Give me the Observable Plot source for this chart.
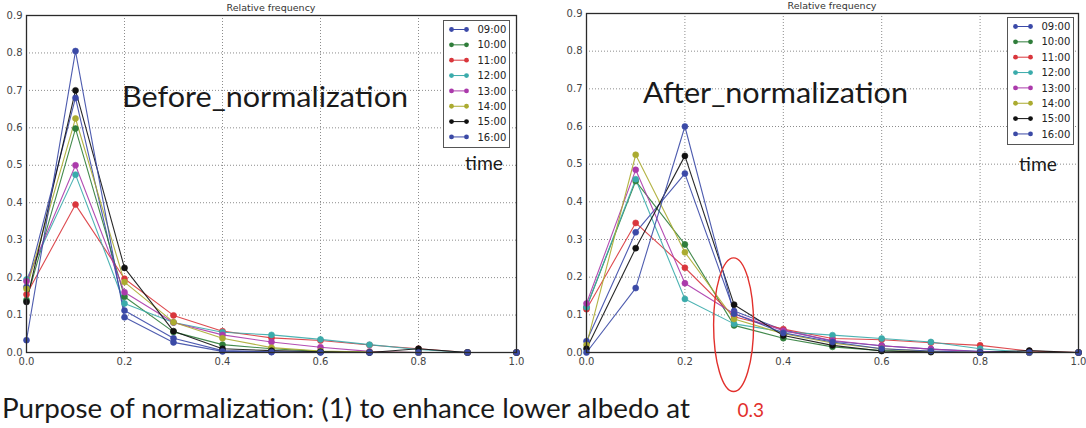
<!DOCTYPE html>
<html>
<head>
<meta charset="utf-8">
<script src="https://cdn.jsdelivr.net/npm/d3@7"></script>
<script src="https://cdn.jsdelivr.net/npm/@observablehq/plot@0.6"></script>
<style>
  html, body { margin: 0; padding: 0; background: #fff; }
  #page { position: relative; width: 1086px; height: 428px; overflow: hidden; background: #fff; }
  .panel { position: absolute; top: 0; }
  #overlay { position: absolute; left: 0; top: 0; pointer-events: none; }
</style>
</head>
<body>
<div id="page"></div>
<script>
// Albedo bins (x) and tick values
const bins = [0, 0.1, 0.2, 0.3, 0.4, 0.5, 0.6, 0.7, 0.8, 0.9, 1.0];
const xTicks = [0, 0.2, 0.4, 0.6, 0.8, 1.0];
const yTicks = [0, 0.1, 0.2, 0.3, 0.4, 0.5, 0.6, 0.7, 0.8, 0.9];

// Observation times and their colours
const times = ["09:00", "10:00", "11:00", "12:00", "13:00", "14:00", "15:00", "16:00"];
const timeColors = ["#3b49a8", "#2f7d3a", "#d9363c", "#3aabab", "#ab3aab", "#abab30", "#111111", "#3b4aa6"];

// Relative frequency per bin, before normalization
const before0900 = [0.175, 0.68, 0.112, 0.038, 0.005, 0.002, 0.001, 0, 0, 0, 0];
const before1000 = [0.14, 0.598, 0.149, 0.055, 0.021, 0.01, 0.003, 0.001, 0, 0, 0];
const before1100 = [0.155, 0.395, 0.197, 0.099, 0.057, 0.039, 0.032, 0.02, 0.01, 0, 0];
const before1200 = [0.195, 0.475, 0.131, 0.08, 0.054, 0.047, 0.035, 0.021, 0.008, 0, 0];
const before1300 = [0.19, 0.5, 0.161, 0.08, 0.047, 0.028, 0.014, 0.003, 0, 0, 0];
const before1400 = [0.17, 0.625, 0.188, 0.081, 0.038, 0.013, 0.004, 0.001, 0, 0, 0];
const before1500 = [0.135, 0.7, 0.226, 0.057, 0.01, 0.005, 0.002, 0, 0.01, 0, 0];
const before1600 = [0.033, 0.805, 0.094, 0.027, 0.003, 0.001, 0, 0, 0, 0, 0];

// Relative frequency per bin, after normalization
const after0900 = [0.03, 0.319, 0.475, 0.11, 0.06, 0.03, 0.018, 0.009, 0.003, 0, 0];
const after1000 = [0.12, 0.455, 0.287, 0.072, 0.038, 0.015, 0.005, 0.002, 0, 0, 0];
const after1100 = [0.115, 0.344, 0.225, 0.095, 0.062, 0.037, 0.034, 0.026, 0.019, 0.004, 0];
const after1200 = [0.12, 0.46, 0.142, 0.076, 0.055, 0.046, 0.037, 0.028, 0.01, 0, 0];
const after1300 = [0.13, 0.485, 0.184, 0.103, 0.058, 0.032, 0.018, 0.009, 0.002, 0, 0];
const after1400 = [0.02, 0.525, 0.266, 0.089, 0.05, 0.025, 0.01, 0.003, 0, 0, 0];
const after1500 = [0.01, 0.277, 0.522, 0.127, 0.045, 0.019, 0.004, 0.001, 0, 0.005, 0];
const after1600 = [0, 0.171, 0.6, 0.103, 0.052, 0.028, 0.01, 0.004, 0, 0, 0];

const beforeSeries = [before0900, before1000, before1100, before1200, before1300, before1400, before1500, before1600];
const afterSeries = [after0900, after1000, after1100, after1200, after1300, after1400, after1500, after1600];

const page = document.getElementById("page");

function toRows(series) {
  const rows = [];
  series.forEach((vals, i) => vals.forEach((v, j) => rows.push({time: times[i], bin: bins[j], freq: v})));
  return rows;
}

function panel(series, {left, width, marginTop, marginRight}) {
  const rows = toRows(series);
  const chart = Plot.plot({
    width, height: 375,
    marginLeft: 26, marginRight, marginTop, marginBottom: 23,
    style: {background: "transparent", fontFamily: "'DejaVu Sans', sans-serif", fontSize: "10px", color: "#444", overflow: "visible"},
    x: {domain: [0, 1], ticks: xTicks, tickFormat: d => d.toFixed(1), tickSize: 0, tickPadding: 5, label: null},
    y: {domain: [0, 0.9], ticks: yTicks, tickFormat: d => d.toFixed(1), tickSize: 0, tickPadding: 4, label: null},
    color: {domain: times, range: timeColors},
    marks: [
      Plot.ruleX(xTicks.slice(1, -1), {stroke: "#8c8c8c", strokeWidth: 1, strokeDasharray: "1,2"}),
      Plot.ruleY(yTicks.slice(1, -1), {stroke: "#8c8c8c", strokeWidth: 1, strokeDasharray: "1,2"}),
      Plot.line(rows, {x: "bin", y: "freq", z: "time", stroke: "time", strokeWidth: 1.1, strokeOpacity: 0.9}),
      Plot.dot(rows, {x: "bin", y: "freq", fill: "time", stroke: "time", strokeWidth: 0.6, r: 3}),
      Plot.frame({stroke: "#2a2a2a", strokeWidth: 1.3})
    ]
  });
  chart.classList.add("panel");
  chart.style.left = left + "px";
  page.appendChild(chart);
  return chart;
}

const leftChart = panel(beforeSeries, {left: 0, width: 530, marginTop: 15, marginRight: 14});
const rightChart = panel(afterSeries, {left: 560, width: 526, marginTop: 13, marginRight: 8});

// Annotation layer: titles, legends, captions and the highlight ellipse
const overlay = d3.create("svg")
  .attr("id", "overlay")
  .attr("width", 1086)
  .attr("height", 428);

function decorate(chart, offsetX, cfg) {
  const sx = chart.scale("x"), sy = chart.scale("y");
  const x0 = offsetX + sx.apply(0), x1 = offsetX + sx.apply(1);
  const yTop = sy.apply(0.9);

  overlay.append("text")
    .attr("x", (x0 + x1) / 2).attr("y", yTop - 4)
    .attr("text-anchor", "middle")
    .attr("font-family", "'DejaVu Sans', sans-serif")
    .attr("font-size", 9.5)
    .attr("fill", "#333")
    .text("Relative frequency");

  // legend
  const g = overlay.append("g");
  g.append("rect")
    .attr("x", cfg.legendX).attr("y", cfg.legendY)
    .attr("width", 66).attr("height", 127)
    .attr("fill", "#fff").attr("stroke", "#555").attr("stroke-width", 1);
  times.forEach((t, i) => {
    const cy = cfg.legendY + 9 + i * 15.35;
    const c = timeColors[i];
    g.append("line")
      .attr("x1", cfg.legendX + 8).attr("x2", cfg.legendX + 23)
      .attr("y1", cy).attr("y2", cy)
      .attr("stroke", c).attr("stroke-width", 1);
    [cfg.legendX + 8, cfg.legendX + 23].forEach(cx =>
      g.append("circle").attr("cx", cx).attr("cy", cy).attr("r", 2.4).attr("fill", c));
    g.append("text")
      .attr("x", cfg.legendX + 34).attr("y", cy + 3.6)
      .attr("font-family", "'DejaVu Sans', sans-serif")
      .attr("font-size", 10)
      .attr("fill", "#222")
      .text(t);
  });

  overlay.append("text")
    .attr("x", cfg.timeX).attr("y", cfg.timeY)
    .attr("font-family", "Lato, 'Open Sans', sans-serif")
    .attr("font-size", 20)
    .attr("textLength", 38).attr("lengthAdjust", "spacingAndGlyphs")
    .attr("fill", "#1a1a1a")
    .text("time");

  overlay.append("text")
    .attr("x", cfg.titleX).attr("y", cfg.titleY)
    .attr("font-family", "Lato, 'Open Sans', sans-serif")
    .attr("font-size", 29)
    .attr("textLength", cfg.titleLen).attr("lengthAdjust", "spacingAndGlyphs")
    .attr("fill", "#1a1a1a")
    .text(cfg.title);
}

decorate(leftChart, 0, {
  legendX: 443.5, legendY: 20.5, timeX: 465, timeY: 170,
  titleX: 122, titleY: 107, titleLen: 286, title: "Before_normalization"
});
decorate(rightChart, 560, {
  legendX: 1007.5, legendY: 17.5, timeX: 1019, timeY: 171,
  titleX: 643, titleY: 103, titleLen: 265, title: "After_normalization"
});

// Highlight of the 0.3 bin on the normalized panel
{
  const sx = rightChart.scale("x"), sy = rightChart.scale("y");
  const cx = 560 + sx.apply(0.3);
  const yHi = sy.apply(0.25), yLo = sy.apply(-0.105);
  overlay.append("ellipse")
    .attr("cx", cx).attr("cy", (yHi + yLo) / 2)
    .attr("rx", 20).attr("ry", (yLo - yHi) / 2)
    .attr("fill", "none").attr("stroke", "#e2302c").attr("stroke-width", 1.4);
  overlay.append("text")
    .attr("x", cx + 4).attr("y", 417)
    .attr("font-family", "Lato, 'Open Sans', sans-serif")
    .attr("font-size", 19)
    .attr("fill", "#e2302c")
    .text("0.3");
}

overlay.append("text")
  .attr("x", 2).attr("y", 418)
  .attr("font-family", "Lato, 'Open Sans', sans-serif")
  .attr("font-size", 26)
  .attr("textLength", 688).attr("lengthAdjust", "spacingAndGlyphs")
  .attr("fill", "#1a1a1a")
  .text("Purpose of normalization: (1) to enhance lower albedo at");

page.appendChild(overlay.node());
</script>
</body>
</html>
